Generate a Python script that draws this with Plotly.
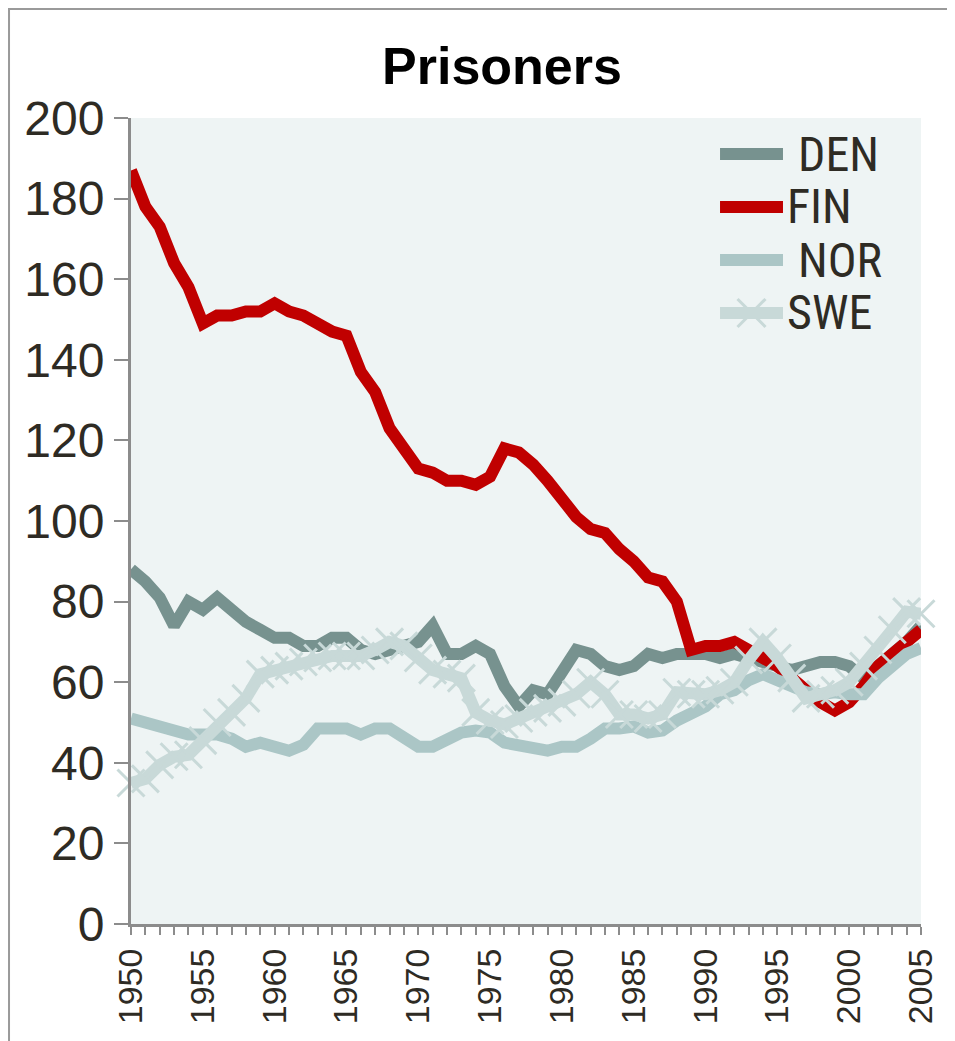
import plotly.graph_objects as go

years = list(range(1950, 2006))

den = [88, 85, 81, 74, 80, 78, 81, 78, 75, 73, 71, 71, 69, 69, 71, 71, 68, 67, 68, 69,
       70, 74, 67, 67, 69, 67, 59, 54, 58, 57, 63, 68, 67, 64, 63, 64, 67, 66, 67, 67,
       67, 66, 67, 66, 65, 64, 63, 64, 65, 65, 64, 61, 64, 67, 70, 74]
fin = [187, 178, 173, 164, 158, 149, 151, 151, 152, 152, 154, 152, 151, 149, 147, 146, 137, 132, 123, 118,
       113, 112, 110, 110, 109, 111, 118, 117, 114, 110, 105, 101, 98, 97, 93, 90, 86, 85, 80, 68,
       69, 69, 70, 68, 66, 64, 61, 58, 55, 53, 55, 59, 64, 67, 70, 73]
nor = [51, 50, 49, 47.5, 47, 47, 47, 46, 44, 45, 44, 43, 44.5, 48.5, 48.5, 48.5, 47, 48.5, 48.5, 46.5,
       44, 44, 45.5, 47.5, 48, 47.5, 45, 44.5, 44, 43, 44, 44, 46, 48.5, 48.5, 49, 47.5, 48, 50.5, 52,
       54, 57, 58, 60.5, 62, 60.5, 59, 57.5, 57, 57.5, 57, 57, 61, 64, 67, 68.5]
swe = [35, 36, 39.5, 41.5, 42, 45.5, 50, 52.5, 56, 62, 63, 64, 65, 66, 66.5, 66.5, 66.5, 68, 70, 69,
       66, 63, 62, 61, 52.5, 50.5, 49.5, 51, 52.5, 53.5, 55, 57, 60, 57, 52, 52, 51, 52, 57.5, 57,
       57, 58, 60, 65.5, 70, 66, 61, 56, 57, 58, 60, 64, 68, 73, 77.5, 77]

series_names = ["DEN", "FIN", "NOR", "SWE"]
legend_labels = ["\u00a0DEN", "FIN", "\u00a0NOR", "SWE"]
series_values = [den, fin, nor, swe]
series_colors = ["#77928f", "#c00000", "#abc6c6", "#c8d9d8"]

y_ticks = list(range(0, 201, 20))
x_ticks = list(range(1950, 2006, 5))

NARROW = "Liberation Sans Narrow, Arial Narrow, Roboto Condensed, sans-serif"
REG = "Liberation Sans, Arial, sans-serif"
TXT = "#2e2b24"

fig = go.Figure()
for name, vals, col in zip(series_names, series_values, series_colors):
    if name == "SWE":
        fig.add_trace(go.Scatter(
            x=years, y=vals, name=name, mode="lines+markers",
            line=dict(color=col, width=12),
            marker=dict(symbol="x-thin", size=27, color=col, line=dict(width=3, color=col)),
            cliponaxis=False, showlegend=False,
        ))
    else:
        fig.add_trace(go.Scatter(
            x=years, y=vals, name=name, mode="lines",
            line=dict(color=col, width=12), showlegend=False,
        ))

fig.update_layout(
    width=947, height=1033,
    margin=dict(l=123, r=34, t=110, b=117),
    paper_bgcolor="white",
    plot_bgcolor="#eef4f4",
    title=dict(text="<b>Prisoners</b>", x=494 / 947, xanchor="center", y=1 - 58 / 1033, yanchor="middle",
               font=dict(family=REG, size=52, color="black")),
    showlegend=False,
    xaxis=dict(range=[1950, 2005], tickvals=x_ticks, ticktext=[str(v) for v in x_ticks],
               tickangle=-90, ticks="outside", ticklen=8, tickwidth=2, tickcolor="#8c8c8c",
               minor=dict(dtick=1, ticks="outside", ticklen=8, tickwidth=2, tickcolor="#8c8c8c", showgrid=False),
               showline=True, linecolor="#8c8c8c", linewidth=3, showgrid=False, zeroline=False,
               tickfont=dict(family=REG, size=34, color=TXT)),
    yaxis=dict(range=[0, 200], tickvals=y_ticks, ticks="outside", ticklen=14, tickwidth=2,
               tickcolor="#8c8c8c", showline=True, linecolor="#8c8c8c", linewidth=3,
               showgrid=False, zeroline=False,
               tickfont=dict(family=REG, size=48, color=TXT)),
)

# legend (drawn manually to match the original's spacing)
leg_x0, leg_x1 = 0.7456, 0.8253
leg_text_x = 0.8278
leg_rows = [0.9553, 0.8896, 0.8238, 0.7581]
for lab, col, ry in zip(legend_labels, series_colors, leg_rows):
    fig.add_shape(type="line", xref="paper", yref="paper", x0=leg_x0, x1=leg_x1, y0=ry, y1=ry,
                  line=dict(color=col, width=12))
    fig.add_annotation(xref="paper", yref="paper", x=leg_text_x, y=ry, text=lab, showarrow=False,
                       xanchor="left", yanchor="middle", font=dict(family=NARROW, size=48, color=TXT))
# x mark on the SWE legend sample
mx = (leg_x0 + leg_x1) / 2
for a, b in [(-14, 14), (14, -14)]:
    fig.add_shape(type="line", xref="paper", yref="paper", xsizemode="pixel", ysizemode="pixel",
                  xanchor=mx, yanchor=leg_rows[3], x0=-14, x1=14, y0=a, y1=b,
                  line=dict(color=series_colors[3], width=3), layer="below")

# outer frame of the chart area
fig.add_shape(type="rect", xref="paper", yref="paper",
              x0=-0.1544, x1=1.3, y0=-0.3, y1=1.1352,
              line=dict(color="#9a9a9a", width=2), fillcolor="rgba(0,0,0,0)", layer="below")

fig.write_html("out.html")
